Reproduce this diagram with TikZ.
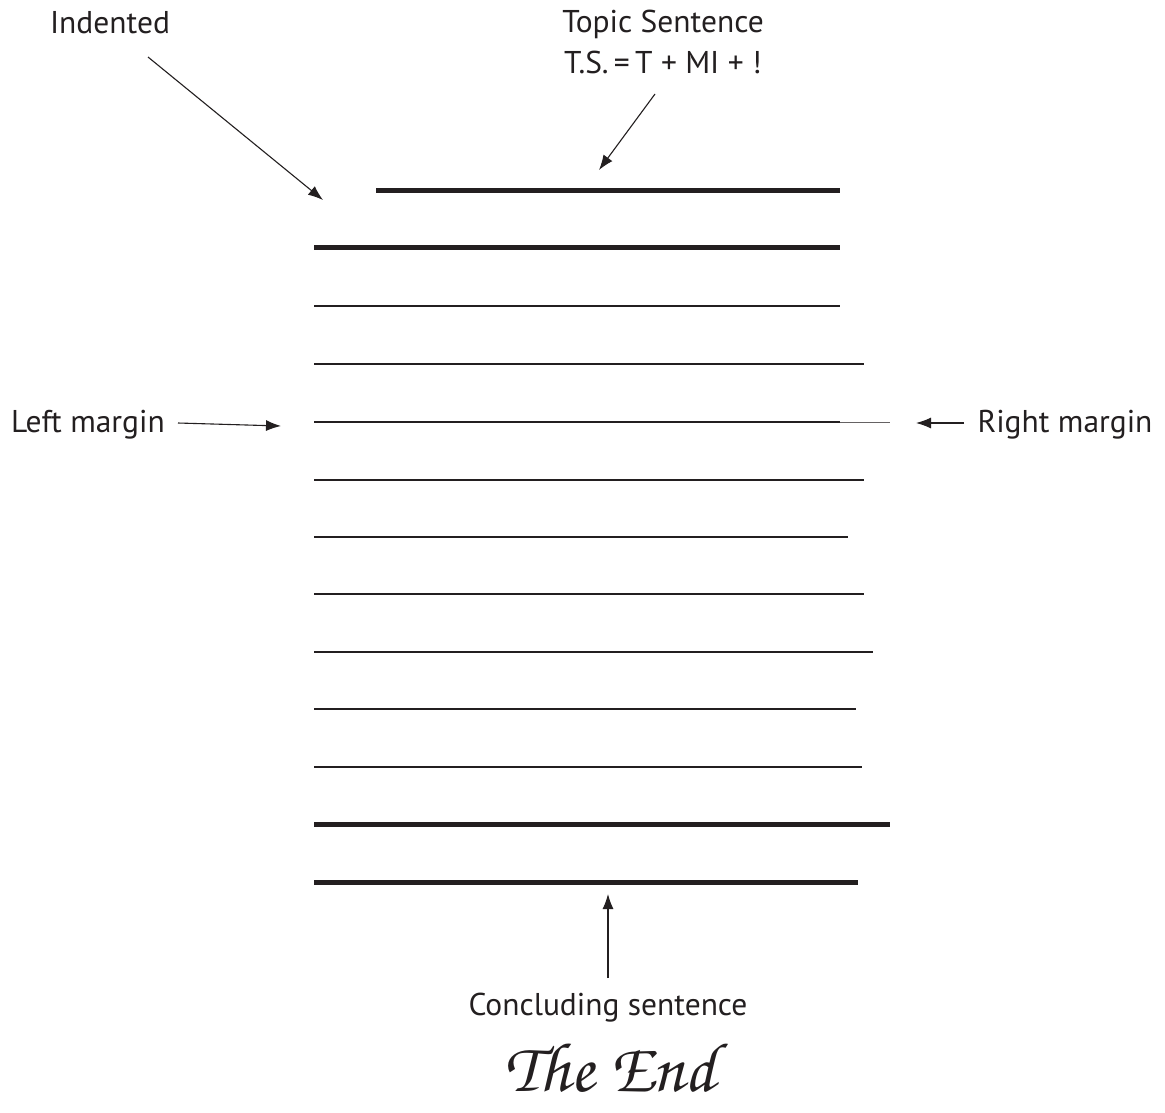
\documentclass[tikz,border=0pt]{standalone}
\usepackage{fontspec}
\setmainfont{PT Sans}
\newfontfamily\chorus{texgyrechorus-mediumitalic.otf}
\usetikzlibrary{arrows.meta}
\definecolor{ink}{HTML}{231F20}
\begin{document}
\begin{tikzpicture}[x=1pt,y=-1pt,
  lbl/.style={inner sep=0pt,anchor=base,text=ink,font=\fontsize{31.5}{36}\selectfont},
  thickline/.style={draw=ink,line width=5pt},
  thinline/.style={draw=ink,line width=1.4pt},
  pointer/.style={draw=ink,line width=1.1pt,-{Latex[length=15pt,width=11pt]}}]
\useasboundingbox[fill=white] (0,0) rectangle (1165,1112);
% ruled lines
\draw[thickline] (376,190) -- (840,190);
\draw[thickline] (314,247) -- (840,247);
\draw[thinline] (314,306) -- (840,306);
\draw[thinline] (314,364) -- (864,364);
\draw[thinline] (314,422) -- (840,422);
\draw[draw=ink!70,line width=1pt] (840,422) -- (890,422);
\draw[thinline] (314,480) -- (864,480);
\draw[thinline] (314,537) -- (848,537);
\draw[thinline] (314,594) -- (864,594);
\draw[thinline] (314,652) -- (873,652);
\draw[thinline] (314,709) -- (856,709);
\draw[thinline] (314,767) -- (862,767);
\draw[thickline] (314,824) -- (890,824);
\draw[thickline] (314,882) -- (858,882);
% labels
\node[lbl] (ind) at (110,33) {Indented};
\node[lbl] (ts) at (663,32) {Topic Sentence};
\node[lbl] (tsf) at (663,73) {T.S.\,=\,T + MI + !};
\node[lbl] (lm) at (88,432) {Left margin};
\node[lbl] (rm) at (1065,432) {Right margin};
\node[lbl] (cs) at (608,1015) {Concluding sentence};
\node[inner sep=0pt,anchor=base,text=ink,font=\chorus\fontsize{70}{76}\selectfont] (end) at (610,1091) {The End};
% connector ends
\coordinate (indA) at (148,57);
\coordinate (indB) at (323,200);
\coordinate (tsA) at (655,94);
\coordinate (tsB) at (599,170);
\coordinate (lmA) at (178,423);
\coordinate (lmB) at (281,426);
\coordinate (rmA) at (964,423);
\coordinate (rmB) at (916,423);
\coordinate (csA) at (608,978);
\coordinate (csB) at (608,894);
\draw[pointer] (indA) -- (indB);
\draw[pointer] (tsA) -- (tsB);
\draw[pointer] (lmA) -- (lmB);
\draw[pointer] (rmA) -- (rmB);
\draw[pointer] (csA) -- (csB);
\end{tikzpicture}
\end{document}
